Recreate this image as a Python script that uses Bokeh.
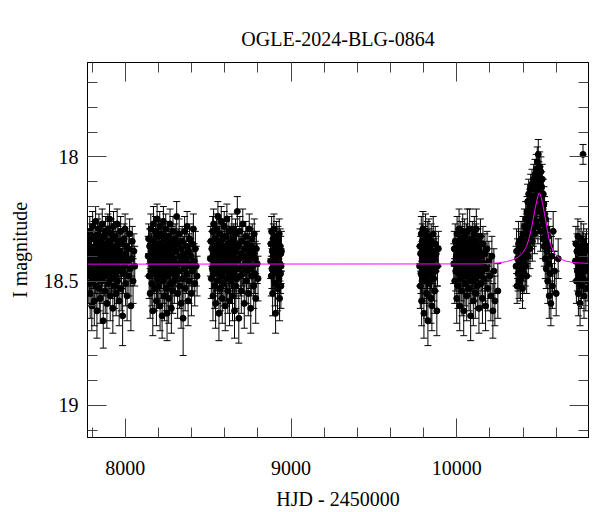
from bokeh.plotting import figure
from bokeh.models import (Range1d, LinearAxis, SingleIntervalTicker, ColumnDataSource,
                          Whisker, TeeHead, CustomJSTickFormatter, CustomLabelingPolicy)
from bokeh.embed import file_html
from bokeh.resources import INLINE
import numpy as np

title_text = "OGLE-2024-BLG-0864"
x_label = "HJD - 2450000"
y_label = "I magnitude"

# ---- season 1 ----
t1 = [7776, 7778, 7780, 7782, 7784, 7786, 7788, 7790, 7792, 7794,
      7796, 7798, 7800, 7803, 7805, 7807, 7809, 7811, 7813, 7815,
      7817, 7819, 7821, 7823, 7825, 7827, 7829, 7831, 7833, 7835,
      7837, 7839, 7841, 7843, 7845, 7847, 7849, 7851, 7853, 7855,
      7857, 7859, 7861, 7863, 7865, 7867, 7869, 7871, 7873, 7875,
      7877, 7879, 7881, 7883, 7885, 7887, 7889, 7891, 7893, 7895,
      7897, 7899, 7901, 7903, 7905, 7907, 7909, 7911, 7913, 7915,
      7917, 7919, 7921, 7923, 7925, 7927, 7929, 7931, 7933, 7935,
      7937, 7939, 7941, 7943, 7945, 7947, 7949, 7951, 7953, 7955,
      7957, 7960, 7963, 7966, 7969, 7972, 7975, 7978, 7981, 7984,
      7987, 7990, 7993, 7996, 7999, 8002, 8005, 8008, 8011, 8014,
      8018, 8022, 8026, 8030, 8034, 8038, 8042, 8047, 8052, 8057]
m1 = [18.42, 18.35, 18.51, 18.38, 18.46, 18.30, 18.55, 18.41, 18.33, 18.48,
      18.37, 18.60, 18.44, 18.28, 18.50, 18.39, 18.45, 18.32, 18.58, 18.43,
      18.36, 18.47, 18.26, 18.52, 18.40, 18.34, 18.62, 18.44, 18.31, 18.49,
      18.38, 18.45, 18.29, 18.53, 18.41, 18.36, 18.57, 18.42, 18.33, 18.47,
      18.39, 18.50, 18.27, 18.44, 18.35, 18.66, 18.40, 18.32, 18.48, 18.43,
      18.37, 18.54, 18.30, 18.46, 18.41, 18.35, 18.59, 18.38, 18.44, 18.29,
      18.51, 18.40, 18.34, 18.47, 18.25, 18.43, 18.56, 18.36, 18.42, 18.31,
      18.49, 18.38, 18.45, 18.33, 18.61, 18.40, 18.28, 18.46, 18.37, 18.52,
      18.44, 18.32, 18.48, 18.39, 18.55, 18.36, 18.43, 18.27, 18.50, 18.41,
      18.34, 18.46, 18.58, 18.38, 18.42, 18.30, 18.53, 18.45, 18.35, 18.64,
      18.40, 18.47, 18.33, 18.44, 18.29, 18.51, 18.39, 18.36, 18.56, 18.42,
      18.37, 18.48, 18.31, 18.45, 18.60, 18.41, 18.34, 18.50, 18.38, 18.44]
e1 = [0.07, 0.06, 0.08, 0.07, 0.09, 0.06, 0.10, 0.07, 0.06, 0.08,
      0.07, 0.10, 0.08, 0.06, 0.09, 0.07, 0.08, 0.06, 0.10, 0.07,
      0.06, 0.08, 0.06, 0.09, 0.07, 0.06, 0.11, 0.08, 0.06, 0.09,
      0.07, 0.08, 0.06, 0.09, 0.07, 0.06, 0.10, 0.07, 0.06, 0.08,
      0.07, 0.09, 0.06, 0.08, 0.07, 0.11, 0.07, 0.06, 0.08, 0.07,
      0.06, 0.09, 0.06, 0.08, 0.07, 0.06, 0.10, 0.07, 0.08, 0.06,
      0.09, 0.07, 0.06, 0.08, 0.06, 0.07, 0.10, 0.06, 0.07, 0.06,
      0.08, 0.07, 0.08, 0.06, 0.10, 0.07, 0.06, 0.08, 0.07, 0.09,
      0.07, 0.06, 0.08, 0.07, 0.09, 0.06, 0.07, 0.06, 0.09, 0.07,
      0.06, 0.08, 0.10, 0.07, 0.07, 0.06, 0.09, 0.08, 0.06, 0.12,
      0.07, 0.08, 0.06, 0.07, 0.06, 0.09, 0.07, 0.06, 0.10, 0.07,
      0.06, 0.08, 0.06, 0.07, 0.10, 0.07, 0.06, 0.09, 0.07, 0.08]

# ---- season 2 ----
t2 = [8138, 8141, 8144, 8147, 8150, 8152, 8154, 8156, 8158, 8160,
      8162, 8164, 8166, 8168, 8170, 8172, 8174, 8176, 8178, 8180,
      8182, 8184, 8186, 8188, 8190, 8192, 8194, 8196, 8198, 8200,
      8202, 8204, 8206, 8208, 8210, 8212, 8214, 8216, 8218, 8220,
      8222, 8224, 8226, 8228, 8230, 8232, 8234, 8236, 8238, 8240,
      8242, 8244, 8246, 8248, 8250, 8252, 8254, 8256, 8258, 8260,
      8262, 8264, 8266, 8268, 8270, 8272, 8274, 8276, 8278, 8280,
      8282, 8284, 8286, 8288, 8290, 8292, 8294, 8296, 8298, 8301,
      8304, 8307, 8310, 8313, 8316, 8319, 8322, 8325, 8328, 8331,
      8334, 8337, 8340, 8343, 8346, 8349, 8352, 8355, 8358, 8361,
      8364, 8367, 8370, 8373, 8376, 8379, 8382, 8385, 8388, 8391,
      8395, 8399, 8403, 8407, 8411, 8415, 8419, 8423, 8428, 8433]
m2 = [18.40, 18.33, 18.48, 18.36, 18.55, 18.42, 18.29, 18.46, 18.38, 18.51,
      18.34, 18.44, 18.62, 18.39, 18.27, 18.47, 18.41, 18.35, 18.53, 18.43,
      18.30, 18.45, 18.37, 18.58, 18.40, 18.25, 18.49, 18.36, 18.44, 18.32,
      18.52, 18.39, 18.46, 18.28, 18.60, 18.42, 18.35, 18.48, 18.38, 18.31,
      18.64, 18.43, 18.37, 18.50, 18.26, 18.45, 18.39, 18.56, 18.33, 18.47,
      18.41, 18.29, 18.53, 18.36, 18.44, 18.63, 18.38, 18.48, 18.32, 18.42,
      18.57, 18.35, 18.46, 18.40, 18.27, 18.51, 18.43, 18.37, 18.61, 18.34,
      18.45, 18.39, 18.54, 18.30, 18.47, 18.41, 18.36, 18.50, 18.44, 18.33,
      18.48, 18.38, 18.24, 18.43, 18.55, 18.35, 18.46, 18.31, 18.52, 18.40,
      18.37, 18.59, 18.42, 18.34, 18.49, 18.65, 18.39, 18.45, 18.30, 18.53,
      18.41, 18.36, 18.47, 18.28, 18.43, 18.58, 18.38, 18.50, 18.33, 18.44,
      18.40, 18.55, 18.35, 18.46, 18.29, 18.42, 18.51, 18.37, 18.44, 18.48]
e2 = [0.08, 0.06, 0.09, 0.07, 0.10, 0.07, 0.06, 0.08, 0.07, 0.09,
      0.06, 0.08, 0.10, 0.07, 0.07, 0.08, 0.07, 0.06, 0.09, 0.08,
      0.06, 0.08, 0.07, 0.10, 0.07, 0.06, 0.09, 0.07, 0.08, 0.06,
      0.09, 0.07, 0.08, 0.06, 0.10, 0.07, 0.06, 0.09, 0.07, 0.06,
      0.09, 0.08, 0.07, 0.09, 0.06, 0.08, 0.07, 0.10, 0.06, 0.08,
      0.07, 0.06, 0.09, 0.07, 0.08, 0.11, 0.07, 0.08, 0.06, 0.07,
      0.10, 0.06, 0.08, 0.07, 0.06, 0.09, 0.08, 0.07, 0.10, 0.06,
      0.08, 0.07, 0.09, 0.06, 0.08, 0.07, 0.06, 0.09, 0.08, 0.06,
      0.08, 0.07, 0.06, 0.07, 0.10, 0.06, 0.08, 0.06, 0.09, 0.07,
      0.07, 0.10, 0.08, 0.06, 0.09, 0.15, 0.07, 0.08, 0.06, 0.09,
      0.07, 0.06, 0.08, 0.06, 0.07, 0.10, 0.07, 0.09, 0.06, 0.08,
      0.07, 0.09, 0.06, 0.08, 0.06, 0.07, 0.09, 0.07, 0.08, 0.08]

# ---- season 3 ----
t3 = [8513, 8516, 8519, 8522, 8525, 8527, 8529, 8531, 8533, 8535,
      8537, 8539, 8541, 8543, 8545, 8547, 8549, 8551, 8553, 8555,
      8557, 8559, 8561, 8563, 8565, 8567, 8569, 8571, 8573, 8575,
      8577, 8579, 8581, 8583, 8585, 8587, 8589, 8591, 8593, 8595,
      8597, 8599, 8601, 8603, 8605, 8607, 8609, 8611, 8613, 8615,
      8617, 8619, 8621, 8623, 8625, 8627, 8629, 8631, 8633, 8635,
      8637, 8639, 8641, 8643, 8645, 8647, 8649, 8651, 8653, 8655,
      8657, 8659, 8661, 8663, 8665, 8667, 8669, 8671, 8673, 8676,
      8679, 8682, 8685, 8688, 8691, 8694, 8697, 8700, 8703, 8706,
      8709, 8712, 8715, 8718, 8721, 8724, 8727, 8730, 8733, 8736,
      8739, 8742, 8745, 8748, 8751, 8754, 8757, 8760, 8763, 8766,
      8769, 8772, 8775, 8778, 8781, 8784, 8787, 8791, 8796, 8801]
m3 = [18.41, 18.34, 18.49, 18.37, 18.45, 18.30, 18.56, 18.40, 18.27, 18.47,
      18.38, 18.52, 18.43, 18.33, 18.59, 18.39, 18.46, 18.29, 18.44, 18.36,
      18.50, 18.24, 18.42, 18.35, 18.63, 18.40, 18.47, 18.31, 18.53, 18.38,
      18.44, 18.26, 18.48, 18.37, 18.57, 18.41, 18.33, 18.45, 18.39, 18.51,
      18.28, 18.43, 18.36, 18.60, 18.40, 18.46, 18.32, 18.49, 18.25, 18.42,
      18.38, 18.54, 18.35, 18.44, 18.30, 18.47, 18.58, 18.39, 18.43, 18.34,
      18.50, 18.37, 18.45, 18.29, 18.41, 18.56, 18.36, 18.48, 18.40, 18.33,
      18.46, 18.62, 18.38, 18.44, 18.31, 18.52, 18.42, 18.35, 18.49, 18.22,
      18.45, 18.36, 18.65, 18.41, 18.30, 18.48, 18.39, 18.54, 18.34, 18.44,
      18.27, 18.47, 18.40, 18.59, 18.37, 18.43, 18.32, 18.50, 18.46, 18.35,
      18.42, 18.55, 18.38, 18.29, 18.45, 18.40, 18.61, 18.36, 18.48, 18.33,
      18.44, 18.39, 18.52, 18.31, 18.47, 18.41, 18.57, 18.37, 18.43, 18.49]
e3 = [0.07, 0.06, 0.08, 0.07, 0.08, 0.06, 0.10, 0.07, 0.06, 0.09,
      0.07, 0.09, 0.08, 0.06, 0.10, 0.07, 0.08, 0.06, 0.08, 0.07,
      0.09, 0.06, 0.08, 0.07, 0.11, 0.07, 0.08, 0.06, 0.09, 0.07,
      0.08, 0.06, 0.09, 0.07, 0.10, 0.08, 0.06, 0.08, 0.07, 0.09,
      0.06, 0.08, 0.07, 0.10, 0.07, 0.08, 0.06, 0.09, 0.06, 0.08,
      0.07, 0.09, 0.07, 0.08, 0.06, 0.08, 0.10, 0.07, 0.08, 0.06,
      0.09, 0.07, 0.08, 0.06, 0.07, 0.10, 0.07, 0.08, 0.07, 0.06,
      0.08, 0.11, 0.07, 0.08, 0.06, 0.09, 0.08, 0.07, 0.08, 0.06,
      0.08, 0.07, 0.10, 0.07, 0.06, 0.08, 0.07, 0.09, 0.06, 0.08,
      0.06, 0.08, 0.07, 0.10, 0.07, 0.08, 0.06, 0.09, 0.08, 0.07,
      0.07, 0.09, 0.07, 0.06, 0.08, 0.07, 0.10, 0.07, 0.08, 0.06,
      0.08, 0.07, 0.09, 0.06, 0.08, 0.07, 0.10, 0.07, 0.08, 0.09]

# ---- season 4 ----
t4 = [8877, 8879, 8881, 8883, 8885, 8887, 8889, 8891, 8893, 8895,
      8897, 8899, 8901, 8903, 8905, 8907, 8909, 8911, 8913, 8915,
      8917, 8919, 8921, 8923, 8925, 8927, 8929, 8931, 8933, 8935,
      8937, 8938, 8939, 8940, 8942]
m4 = [18.42, 18.35, 18.48, 18.30, 18.45, 18.38, 18.55, 18.40, 18.33, 18.47,
      18.29, 18.43, 18.37, 18.51, 18.41, 18.63, 18.36, 18.46, 18.32, 18.44,
      18.39, 18.53, 18.34, 18.45, 18.40, 18.49, 18.31, 18.57, 18.43, 18.36,
      18.47, 18.39, 18.52, 18.44, 18.38]
e4 = [0.07, 0.06, 0.08, 0.06, 0.08, 0.07, 0.09, 0.07, 0.06, 0.08,
      0.06, 0.07, 0.07, 0.09, 0.07, 0.08, 0.06, 0.08, 0.06, 0.07,
      0.07, 0.09, 0.06, 0.08, 0.07, 0.08, 0.06, 0.09, 0.07, 0.07,
      0.08, 0.07, 0.09, 0.07, 0.08]

# ---- season 5 ----
t5 = [9776, 9778, 9780, 9782, 9784, 9786, 9788, 9790, 9792, 9794,
      9796, 9798, 9800, 9802, 9804, 9806, 9808, 9810, 9812, 9814,
      9816, 9818, 9820, 9822, 9824, 9826, 9828, 9830, 9832, 9834,
      9836, 9838, 9840, 9842, 9844, 9846, 9848, 9850, 9852, 9855,
      9858, 9861, 9864, 9867, 9870, 9873, 9876, 9880, 9884, 9889]
m5 = [18.44, 18.36, 18.52, 18.39, 18.47, 18.31, 18.58, 18.42, 18.34, 18.49,
      18.29, 18.45, 18.38, 18.63, 18.41, 18.35, 18.50, 18.43, 18.30, 18.46,
      18.37, 18.55, 18.40, 18.33, 18.48, 18.66, 18.39, 18.44, 18.32, 18.51,
      18.42, 18.36, 18.47, 18.40, 18.57, 18.34, 18.45, 18.60, 18.38, 18.43,
      18.31, 18.49, 18.41, 18.54, 18.35, 18.46, 18.39, 18.62, 18.44, 18.37]
e5 = [0.08, 0.07, 0.09, 0.07, 0.08, 0.07, 0.10, 0.08, 0.07, 0.09,
      0.07, 0.08, 0.07, 0.10, 0.08, 0.07, 0.09, 0.08, 0.07, 0.08,
      0.07, 0.10, 0.08, 0.07, 0.09, 0.10, 0.07, 0.08, 0.07, 0.09,
      0.08, 0.07, 0.09, 0.08, 0.10, 0.07, 0.08, 0.10, 0.07, 0.08,
      0.07, 0.09, 0.08, 0.09, 0.07, 0.08, 0.07, 0.10, 0.08, 0.07]

# ---- season 6 ----
t6 = [9982, 9985, 9988, 9991, 9994, 9997, 10000, 10002, 10004, 10006,
      10008, 10010, 10012, 10014, 10016, 10018, 10020, 10022, 10024, 10026,
      10028, 10030, 10032, 10034, 10036, 10038, 10040, 10042, 10044, 10046,
      10048, 10050, 10052, 10054, 10056, 10058, 10060, 10062, 10064, 10066,
      10068, 10070, 10072, 10074, 10076, 10078, 10080, 10082, 10084, 10086,
      10088, 10090, 10092, 10094, 10096, 10098, 10100, 10102, 10104, 10106,
      10108, 10110, 10112, 10114, 10116, 10118, 10120, 10122, 10124, 10126,
      10128, 10131, 10134, 10137, 10140, 10143, 10146, 10149, 10152, 10155,
      10158, 10162, 10166, 10170, 10174, 10178, 10183, 10188, 10194, 10200,
      10206, 10212, 10218, 10224, 10230]
m6 = [18.43, 18.37, 18.50, 18.34, 18.46, 18.40, 18.57, 18.31, 18.44, 18.38,
      18.52, 18.36, 18.47, 18.29, 18.42, 18.60, 18.39, 18.45, 18.33, 18.49,
      18.41, 18.35, 18.54, 18.43, 18.30, 18.47, 18.38, 18.62, 18.40, 18.44,
      18.32, 18.51, 18.37, 18.46, 18.41, 18.34, 18.56, 18.42, 18.30, 18.48,
      18.39, 18.45, 18.36, 18.53, 18.43, 18.29, 18.47, 18.40, 18.64, 18.35,
      18.44, 18.38, 18.50, 18.33, 18.46, 18.41, 18.58, 18.37, 18.43, 18.31,
      18.49, 18.40, 18.55, 18.45, 18.34, 18.29, 18.47, 18.39, 18.52, 18.42,
      18.36, 18.48, 18.61, 18.38, 18.44, 18.32, 18.51, 18.40, 18.46, 18.57,
      18.35, 18.43, 18.49, 18.39, 18.60, 18.45, 18.37, 18.53, 18.42, 18.48,
      18.56, 18.40, 18.62, 18.46, 18.58]
e6 = [0.08, 0.07, 0.09, 0.07, 0.08, 0.07, 0.10, 0.07, 0.08, 0.07,
      0.09, 0.07, 0.08, 0.08, 0.07, 0.10, 0.07, 0.08, 0.07, 0.09,
      0.08, 0.07, 0.10, 0.08, 0.07, 0.08, 0.07, 0.10, 0.08, 0.08,
      0.07, 0.09, 0.07, 0.08, 0.08, 0.07, 0.10, 0.08, 0.09, 0.08,
      0.07, 0.08, 0.07, 0.09, 0.08, 0.08, 0.08, 0.07, 0.10, 0.07,
      0.08, 0.07, 0.09, 0.07, 0.08, 0.08, 0.10, 0.07, 0.08, 0.07,
      0.09, 0.08, 0.10, 0.08, 0.07, 0.08, 0.08, 0.07, 0.09, 0.08,
      0.07, 0.08, 0.10, 0.07, 0.08, 0.07, 0.09, 0.08, 0.08, 0.10,
      0.07, 0.08, 0.09, 0.08, 0.10, 0.08, 0.07, 0.09, 0.08, 0.09,
      0.10, 0.08, 0.11, 0.09, 0.10]

# ---- season 7 (the event) ----
t7 = [10358, 10361, 10364, 10367, 10370, 10373, 10376, 10379, 10382, 10385,
      10388, 10391, 10394, 10397, 10400, 10402, 10404, 10406, 10408, 10410,
      10412, 10414, 10416, 10418, 10420, 10422, 10424, 10426, 10428, 10430,
      10432, 10434, 10436, 10438, 10440, 10442, 10444, 10446, 10448, 10450,
      10452, 10454, 10456, 10458, 10460, 10462, 10464, 10466, 10468, 10470,
      10472, 10474, 10476, 10478, 10480, 10482, 10484, 10486, 10488, 10490,
      10492, 10494, 10496, 10498, 10500, 10502, 10504, 10506, 10508, 10510,
      10512, 10514, 10516, 10518, 10520, 10522, 10524, 10526, 10528, 10530,
      10532, 10534, 10536, 10538, 10540, 10543, 10546, 10549, 10552, 10555,
      10558, 10561, 10564, 10568, 10572, 10577, 10582, 10590, 10600, 10612]
m7 = [18.44, 18.38, 18.52, 18.41, 18.47, 18.35, 18.50, 18.43, 18.37, 18.49,
      18.33, 18.45, 18.40, 18.53, 18.31, 18.42, 18.36, 18.47, 18.28, 18.39,
      18.34, 18.44, 18.25, 18.37, 18.31, 18.48, 18.22, 18.35, 18.18, 18.29,
      18.40, 18.15, 18.26, 18.33, 18.20, 18.37, 18.24, 18.13, 18.30, 18.19,
      18.27, 18.11, 18.34, 18.22, 18.16, 18.29, 18.09, 18.24, 18.18, 18.31,
      18.07, 18.20, 18.13, 18.26, 18.05, 18.16, 18.22, 18.02, 18.11, 18.28,
      17.99, 18.14, 18.08, 18.21, 18.04, 18.17, 18.10, 18.30, 18.06, 18.19,
      18.12, 18.25, 18.09, 18.22, 18.33, 18.15, 18.27, 18.19, 18.36, 18.23,
      18.30, 18.41, 18.25, 18.34, 18.45, 18.29, 18.38, 18.50, 18.32, 18.43,
      18.56, 18.36, 18.47, 18.59, 18.40, 18.52, 18.30, 18.46, 18.55, 18.41]
e7 = [0.08, 0.09, 0.07, 0.08, 0.07, 0.09, 0.07, 0.08, 0.07, 0.09,
      0.07, 0.08, 0.07, 0.08, 0.07, 0.08, 0.07, 0.08, 0.07, 0.08,
      0.07, 0.08, 0.07, 0.07, 0.08, 0.07, 0.06, 0.08, 0.07, 0.07,
      0.08, 0.06, 0.07, 0.08, 0.07, 0.08, 0.07, 0.06, 0.07, 0.07,
      0.07, 0.06, 0.08, 0.07, 0.06, 0.07, 0.06, 0.07, 0.07, 0.08,
      0.06, 0.07, 0.06, 0.07, 0.06, 0.07, 0.07, 0.06, 0.06, 0.07,
      0.06, 0.07, 0.06, 0.07, 0.06, 0.07, 0.06, 0.08, 0.06, 0.07,
      0.06, 0.07, 0.06, 0.07, 0.08, 0.06, 0.07, 0.07, 0.08, 0.07,
      0.07, 0.08, 0.07, 0.08, 0.08, 0.07, 0.08, 0.09, 0.07, 0.08,
      0.09, 0.08, 0.08, 0.09, 0.08, 0.09, 0.08, 0.08, 0.09, 0.08]

# ---- season 8 ----
t8 = [10716, 10719, 10722, 10725, 10728, 10731, 10734, 10736, 10738, 10740,
      10742, 10744, 10746, 10748, 10750, 10752, 10754, 10756, 10758, 10760,
      10764, 10766, 10768, 10770, 10773, 10776, 10779, 10783, 10787, 10792]
m8 = [18.42, 18.35, 18.50, 18.38, 18.46, 18.32, 18.55, 18.41, 18.36, 18.48,
      18.44, 18.59, 18.39, 18.45, 18.33, 18.52, 18.40, 18.47, 18.37, 18.43,
      18.49, 18.34, 18.56, 18.41, 18.46, 18.38, 18.53, 18.36, 18.44, 18.50]
e8 = [0.08, 0.07, 0.09, 0.07, 0.08, 0.07, 0.09, 0.08, 0.07, 0.08,
      0.08, 0.09, 0.07, 0.08, 0.07, 0.09, 0.08, 0.08, 0.07, 0.08,
      0.08, 0.07, 0.09, 0.08, 0.08, 0.07, 0.09, 0.07, 0.08, 0.08]

# ---- isolated points ----
t_iso = [10248, 10762]
m_iso = [18.54, 17.99]
e_iso = [0.11, 0.04]

# ---- model curve ----
model_t = [7772, 10150, 10250, 10300, 10340, 10370, 10400, 10420, 10436, 10450,
           10463, 10474, 10483, 10491, 10497, 10503, 10510, 10517, 10527, 10537,
           10547, 10557, 10572, 10587, 10605, 10628, 10660, 10708, 10795]
model_m = [18.432, 18.431, 18.427, 18.422, 18.414, 18.404, 18.385, 18.362, 18.330, 18.290,
           18.245, 18.205, 18.177, 18.155, 18.145, 18.150, 18.164, 18.184, 18.220, 18.258,
           18.296, 18.331, 18.363, 18.385, 18.400, 18.412, 18.420, 18.426, 18.429]

x_major = 1000
y_major = 0.5

t = np.array(t1 + t2 + t3 + t4 + t5 + t6 + t7 + t8 + t_iso, dtype=float)
m = np.array(m1 + m2 + m3 + m4 + m5 + m6 + m7 + m8 + m_iso)
e = np.array(e1 + e2 + e3 + e4 + e5 + e6 + e7 + e8 + e_iso)

src = ColumnDataSource(dict(t=t, m=m, lo=m - e, hi=m + e))

FONT = "Liberation Serif"

p = figure(width=600, height=512, output_backend="svg", toolbar_location=None,
           x_range=Range1d(7772, 10795), y_range=Range1d(19.13, 17.62),
           min_border_left=87, min_border_right=12, min_border_top=62, min_border_bottom=75,
           title=title_text)
p.background_fill_color = "white"
p.border_fill_color = "white"
p.outline_line_color = "black"
p.xgrid.visible = False
p.ygrid.visible = False

p.title.text_font = FONT
p.title.text_font_size = "20px"
p.title.text_font_style = "normal"
p.title.text_color = "black"
p.title.align = "center"
p.title.standoff = 25


def style_axis(ax, ticker, show_labels):
    ax.ticker = ticker
    ax.axis_line_color = "black"
    ax.axis_line_width = 1
    ax.major_tick_in = 19
    ax.major_tick_out = 0
    ax.minor_tick_in = 10
    ax.minor_tick_out = 0
    ax.major_tick_line_color = "#444444"
    ax.minor_tick_line_color = "#444444"
    ax.major_label_text_font = FONT
    ax.major_label_text_color = "black"
    ax.axis_label_text_font = FONT
    ax.axis_label_text_font_style = "normal"
    ax.axis_label_text_font_size = "20px"
    ax.axis_label_text_color = "black"
    ax.major_label_text_font_size = "20px"
    if not show_labels:
        ax.formatter = CustomJSTickFormatter(code="return '';")
        ax.major_label_policy = CustomLabelingPolicy(
            code="for (const i of indices) { indices.unset(i) } return indices")
        ax.major_label_text_font_size = "2px"
        ax.major_label_standoff = 3


xb = p.xaxis[0]
style_axis(xb, SingleIntervalTicker(interval=x_major, num_minor_ticks=5), True)
xb.axis_label = x_label
xb.major_label_standoff = 23
xb.axis_label_standoff = 10

yl = p.yaxis[0]
style_axis(yl, SingleIntervalTicker(interval=y_major, num_minor_ticks=5), True)
yl.formatter = CustomJSTickFormatter(code="return tick.toString();")
yl.axis_label = y_label
yl.major_label_standoff = 9
yl.axis_label_standoff = 10

xt = LinearAxis()
style_axis(xt, SingleIntervalTicker(interval=x_major, num_minor_ticks=5), False)
p.add_layout(xt, "above")

yr = LinearAxis()
style_axis(yr, SingleIntervalTicker(interval=y_major, num_minor_ticks=5), False)
p.add_layout(yr, "right")

wh = Whisker(source=src, base="t", lower="lo", upper="hi", dimension="height",
             line_color="black", line_width=1,
             upper_head=TeeHead(size=7, line_color="black", line_width=1),
             lower_head=TeeHead(size=7, line_color="black", line_width=1))
wh.level = "underlay"
p.add_layout(wh)

p.scatter("t", "m", source=src, size=6, color="black")
p.line(model_t, model_m, line_color="#ff00ff", line_width=1)

open("out.html", "w").write(file_html(p, INLINE))
